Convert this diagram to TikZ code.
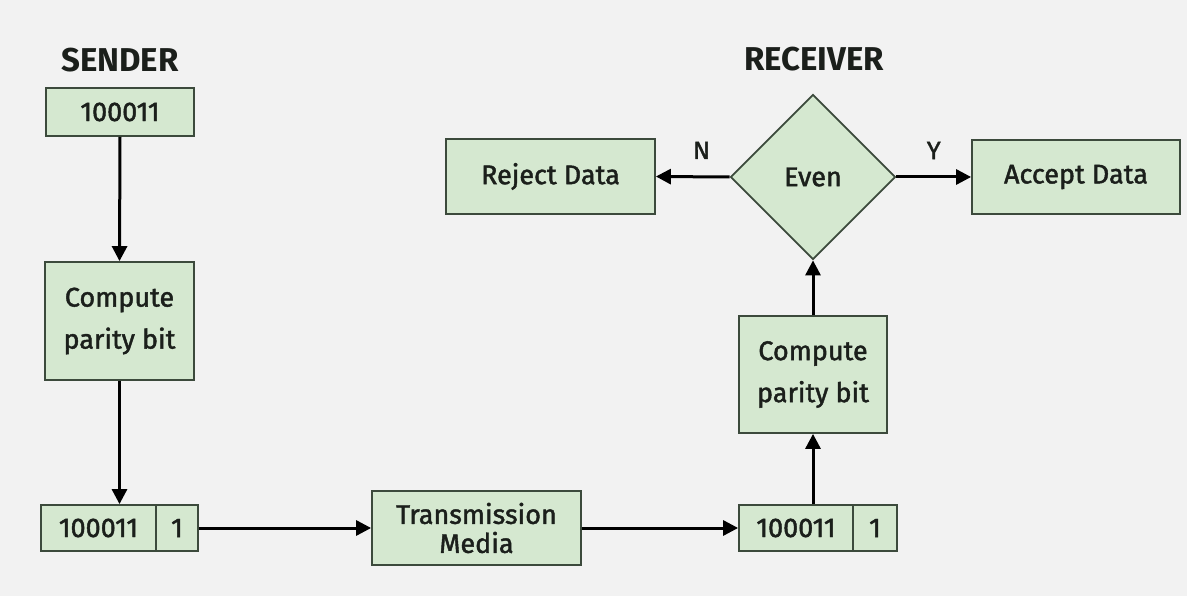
\documentclass[tikz,border=0pt]{standalone}
\usepackage{fontspec}
\setmainfont{Fira Sans}[FakeBold=1.6]
\newfontfamily\headfont{Fira Sans}
\usetikzlibrary{arrows.meta,shapes.geometric}
\definecolor{bgcol}{HTML}{F2F2F2}
\definecolor{boxfill}{HTML}{D5E8D0}
\definecolor{boxline}{HTML}{3C4A3C}
\definecolor{ink}{HTML}{1B1F1B}
\tikzset{
  box/.style={draw=boxline, fill=boxfill, line width=1.8pt, inner sep=0pt,
    text=ink, font=\fontsize{27}{42}\selectfont, align=center},
  tallbox/.style={box, font=\fontsize{27}{29}\selectfont},
  decision/.style={box, diamond, aspect=1},
  title/.style={text=ink, font=\headfont\fontsize{33}{36}\selectfont\bfseries},
  flag/.style={text=ink, font=\fontsize{25}{28}\selectfont},
  flow/.style={line width=3pt, draw=black, -{Triangle[length=15pt,width=15pt]}}
}
\begin{document}
\begin{tikzpicture}[x=1pt,y=-1pt]
  \useasboundingbox[fill=bgcol] (0,0) rectangle (1187,596);

  % sender side
  \node[title] (sendt) at (120,60) {SENDER};
  \node[box, minimum width=148pt, minimum height=48pt] (sdata) at (120,112) {100011};
  \node[box, minimum width=149pt, minimum height=118pt] (scomp) at (119.5,321) {Compute\\parity bit};
  \node[box, minimum width=115pt, minimum height=46pt] (sbits) at (98.5,528) {100011};
  \node[box, minimum width=42pt, minimum height=46pt] (spar) at (177,528) {1};

  % channel
  \node[tallbox, minimum width=209pt, minimum height=74pt] (media) at (476.5,528) {Transmission\\Media};

  % receiver side
  \node[box, minimum width=114pt, minimum height=46pt] (rbits) at (796,528) {100011};
  \node[box, minimum width=44pt, minimum height=46pt] (rpar) at (875,528) {1};
  \node[box, minimum width=148pt, minimum height=117pt] (rcomp) at (813,374.5) {Compute\\parity bit};
  \node[decision, minimum width=165pt, minimum height=165pt] (even) at (813,177) {Even};
  \node[box, minimum width=209pt, minimum height=75pt] (reject) at (550.5,176.5) {Reject Data};
  \node[box, minimum width=208pt, minimum height=74pt] (accept) at (1076,177) {Accept Data};
  \node[title] (recvt) at (814,59) {RECEIVER};

  % connectors
  \draw[flow] (sdata.south) -- (scomp.north);
  \draw[flow] (scomp.south) -- (scomp.south |- sbits.north);
  \draw[flow] (spar.east) -- (media.west);
  \draw[flow] (media.east) -- (rbits.west);
  \draw[flow] (rcomp.south |- rbits.north) -- (rcomp.south);
  \draw[flow] (rcomp.north) -- (even.south);
  \draw[flow] (even.west) -- (reject.east)
    node[flag, pos=0.38, above=13pt] (nolbl) {N};
  \draw[flow] (even.east) -- (accept.west)
    node[flag, pos=0.5, above=13pt] (yeslbl) {Y};
\end{tikzpicture}
\end{document}
